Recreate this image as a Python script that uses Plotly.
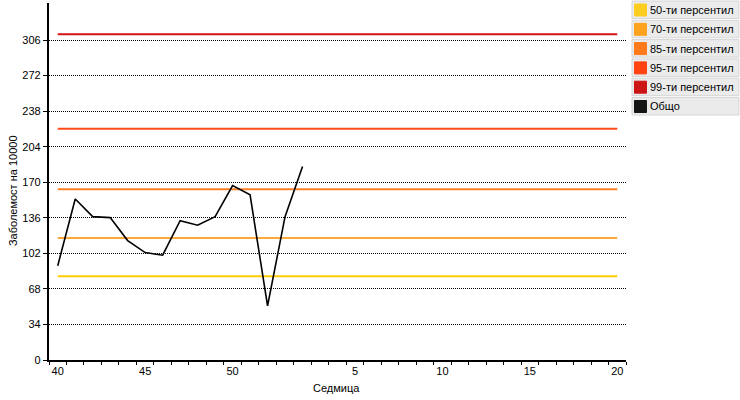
import plotly.graph_objects as go

# ---- data ----
weeks = [str(w) for w in list(range(40, 53)) + list(range(1, 21))]
tick_labels = ["40", "45", "50", "5", "10", "15", "20"]
y_ticks = [0, 34, 68, 102, 136, 170, 204, 238, 272, 306]

total_weeks = ["40", "41", "42", "43", "44", "45", "46", "47", "48", "49", "50", "51", "52", "1", "2"]
total_values = [90.2, 154.0, 137.1, 136.2, 114.2, 102.7, 100.2, 133.3, 128.9, 137.1, 166.8, 157.9, 51.7, 137.1, 185.0]

pct_names = ["50-ти персентил", "70-ти персентил", "85-ти персентил", "95-ти персентил", "99-ти персентил"]
pct_values = [80.1, 116.7, 163.3, 221.2, 311.4]
pct_line_colors = ["#FFCC00", "#FFA83A", "#FF7F27", "#FF4A1A", "#D41414"]
legend_names = pct_names + ["Общо"]
legend_colors = ["#FFCC22", "#FFA21E", "#FF7A1A", "#FF4411", "#CC1515", "#151515"]

FONT = "Liberation Sans, Arial, sans-serif"

fig = go.Figure()
for name, val, col in zip(pct_names, pct_values, pct_line_colors):
    fig.add_trace(go.Scatter(x=[weeks[0], weeks[-1]], y=[val, val], mode="lines",
                             line=dict(color=col, width=2), name=name, showlegend=False,
                             hoverinfo="skip"))
fig.add_trace(go.Scatter(x=total_weeks, y=total_values, mode="lines",
                         line=dict(color="#000000", width=1.6), name="Общо", showlegend=False))

W, H = 740, 400
L, R, T, B = 49, 113.5, 3, 40
pw = W - L - R
ph = H - T - B

def px(x):
    return (x - L) / pw

def py(y):
    return (H - B - y) / ph

shapes = []
annotations = []
# custom legend
for i, (name, col) in enumerate(zip(legend_names, legend_colors)):
    top = 1 + i * 19.3
    shapes.append(dict(type="rect", xref="paper", yref="paper",
                       x0=px(632.5), x1=px(739.5), y0=py(top + 17.5), y1=py(top),
                       fillcolor="#EBEBEB", line=dict(color="#D6D6D6", width=1), layer="above"))
    shapes.append(dict(type="rect", xref="paper", yref="paper",
                       x0=px(635), x1=px(647), y0=py(top + 15), y1=py(top + 3),
                       fillcolor=col, line=dict(color=col, width=1), layer="above"))
    annotations.append(dict(text=name, xref="paper", yref="paper", x=px(649), y=py(top + 9),
                            xanchor="left", yanchor="middle", showarrow=False,
                            font=dict(family=FONT, size=11, color="#000000")))

annotations.append(dict(text="Заболемост на 10000", xref="paper", yref="paper",
                        x=px(13), y=py(191), textangle=-90, showarrow=False,
                        xanchor="center", yanchor="middle",
                        font=dict(family=FONT, size=11, color="#000000")))
annotations.append(dict(text="Седмица", xref="paper", yref="paper",
                        x=px(337), y=py(388), showarrow=False,
                        xanchor="center", yanchor="middle",
                        font=dict(family=FONT, size=11, color="#000000")))

fig.update_layout(
    width=W, height=H,
    margin=dict(l=L, r=R, t=T, b=B, pad=0),
    paper_bgcolor="white", plot_bgcolor="white",
    font=dict(family=FONT, size=11, color="#000000"),
    showlegend=False,
    shapes=shapes, annotations=annotations,
    xaxis=dict(type="category", categoryorder="array", categoryarray=weeks,
               range=[-0.5, len(weeks) - 0.5],
               tickmode="array", tickvals=weeks,
               ticktext=[w if w in tick_labels else "" for w in weeks],
               tickangle=0,
               tickson="boundaries", ticks="outside", ticklen=3, tickcolor="#000000",
               showgrid=False, showline=True, linecolor="#000000", linewidth=2.2,
               zeroline=False, tickfont=dict(size=11, color="#000000"), fixedrange=True),
    yaxis=dict(range=[0, 341.4], tickmode="array", tickvals=y_ticks,
               ticks="outside", ticklen=4, tickcolor="#000000",
               showgrid=True, gridcolor="#000000", griddash="1px,1px", gridwidth=1,
               showline=True, linecolor="#000000", linewidth=2.2, zeroline=False,
               tickfont=dict(size=11, color="#000000"), fixedrange=True),
)

fig.write_html("out.html", config={"displayModeBar": False},
               post_script="document.body.style.margin='0';document.body.style.padding='0';")
